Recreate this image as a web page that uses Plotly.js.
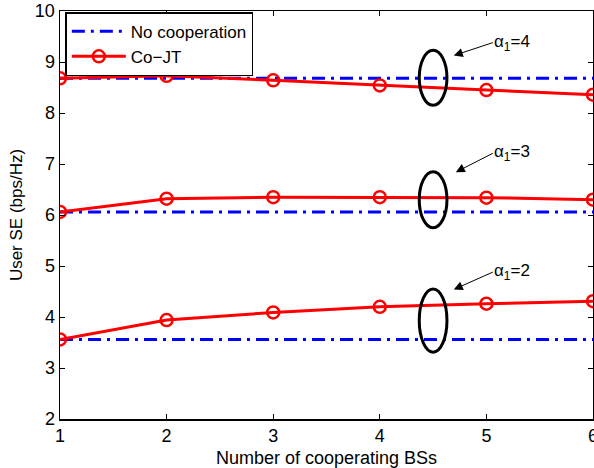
<!DOCTYPE html>
<html>
<head>
<meta charset="utf-8">
<script src="https://cdn.plot.ly/plotly-3.0.1.min.js"></script>
<style>html,body{margin:0;padding:0;background:#fff;}#chart{width:594px;height:468px;}</style>
</head>
<body>
<div id="chart"></div>
<script>
// Data
const bsCount = [1, 2, 3, 4, 5, 6];
const noCoopA4 = [8.68, 8.68, 8.68, 8.68, 8.68, 8.68];
const noCoopA3 = [6.06, 6.06, 6.06, 6.06, 6.06, 6.06];
const noCoopA2 = [3.56, 3.56, 3.56, 3.56, 3.56, 3.56];
const coJtA4 = [8.68, 8.73, 8.64, 8.54, 8.45, 8.36];
const coJtA3 = [6.06, 6.32, 6.35, 6.35, 6.34, 6.30];
const coJtA2 = [3.56, 3.94, 4.09, 4.20, 4.26, 4.31];
const alphaLabels = ['4', '3', '2'];
const xTicks = [1, 2, 3, 4, 5, 6];
const yTicks = [2, 3, 4, 5, 6, 7, 8, 9, 10];

const blue = 'rgb(0,0,255)';
const red = 'rgb(255,0,0)';
const dash = '13px,6px,3px,6px';

function noCoop(y, show) {
  return {x: bsCount, y: y, type: 'scatter', mode: 'lines', name: 'No cooperation',
    showlegend: show, legendgroup: 'nc',
    line: {color: blue, width: 3, dash: dash}};
}
function coJt(y, show) {
  return {x: bsCount, y: y, type: 'scatter', mode: 'lines+markers', name: 'Co\u2212JT',
    showlegend: show, legendgroup: 'cj',
    line: {color: red, width: 3},
    marker: {symbol: 'circle-open', size: 12, color: red, line: {width: 2.5, color: red}}};
}

const data = [
  noCoop(noCoopA4, true), noCoop(noCoopA3, false), noCoop(noCoopA2, false),
  coJt(coJtA4, true), coJt(coJtA3, false), coJt(coJtA2, false)
];

// ellipse groups
const groups = [
  {cy: 8.69, hh: 0.54, head: [4.694, 9.127], tx: 5.06, ty: 9.38},
  {cy: 6.30, hh: 0.55, head: [4.713, 6.84], tx: 5.06, ty: 7.21},
  {cy: 3.93, hh: 0.62, head: [4.694, 4.54], tx: 5.06, ty: 4.88}
];

const shapes = groups.map(g => ({
  type: 'circle', xref: 'x', yref: 'y',
  x0: 4.37, x1: 4.63, y0: g.cy - g.hh, y1: g.cy + g.hh,
  line: {color: 'black', width: 3}
}));

const annotations = groups.map((g, i) => ({
  x: g.head[0], y: g.head[1], ax: g.tx, ay: g.ty,
  xref: 'x', yref: 'y', axref: 'x', ayref: 'y',
  xanchor: 'left', yanchor: 'middle',
  text: '\u03b1<sub>1</sub>=' + alphaLabels[i], showarrow: true,
  arrowhead: 2, arrowsize: 1.8, arrowwidth: 1, arrowcolor: 'black', standoff: 0, startstandoff: 0,
  borderpad: 0,
  font: {family: 'Liberation Sans, Arial, sans-serif', size: 17, color: 'black'}
}));

const font = {family: 'Liberation Sans, Arial, Helvetica, sans-serif', size: 18, color: 'black'};

const layout = {
  width: 594, height: 468,
  margin: {l: 60, r: 1, t: 11, b: 49},
  paper_bgcolor: 'white', plot_bgcolor: 'white',
  font: font,
  showlegend: true,
  legend: {x: 0.01, y: 0.997, xanchor: 'left', yanchor: 'top',
    bgcolor: 'white', bordercolor: 'black', borderwidth: 1.5, itemwidth: 54,
    font: {family: font.family, size: 17, color: 'black'}, tracegroupgap: 0},
  xaxis: {range: [1, 6], tickvals: xTicks, ticks: 'inside', ticklen: 5, tickcolor: 'black',
    showline: true, linecolor: 'black', linewidth: 1.5, mirror: 'ticks', showgrid: false, zeroline: false,
    ticklabeloverflow: 'allow',
    tickfont: {size: 18}, title: {text: 'Number of cooperating BSs', font: {size: 18}, standoff: 6}},
  yaxis: {range: [2, 10], tickvals: yTicks, ticks: 'inside', ticklen: 5, tickcolor: 'black',
    showline: true, linecolor: 'black', linewidth: 1.5, mirror: 'ticks', showgrid: false, zeroline: false,
    tickfont: {size: 18}, title: {text: 'User SE (bps/Hz)', font: {size: 17}, standoff: 8}},
  shapes: shapes,
  annotations: annotations
};

Plotly.newPlot('chart', data, layout, {displayModeBar: false, staticPlot: true});
</script>
</body>
</html>
